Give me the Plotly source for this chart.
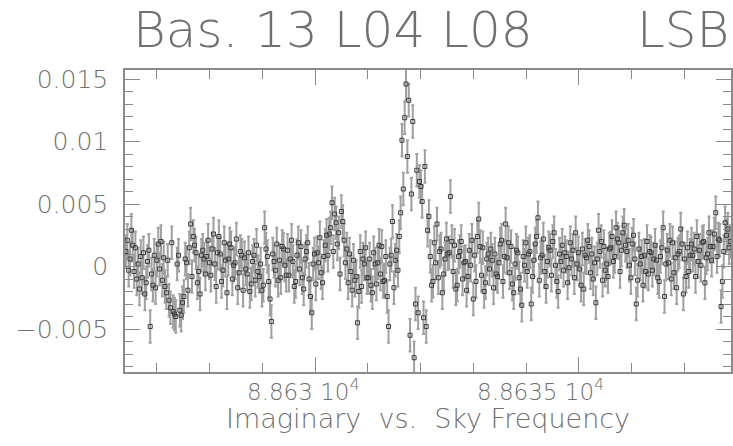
import plotly.graph_objects as go

# ---- data ----
F_START = 88626.42      # MHz, first channel
F_STEP = 0.0255         # MHz per channel
ERR = 0.0013            # per-channel error bar half-length

imag = [
    0.0012, 0.0021, -0.0003, 0.0006, 0.0029, 0.0017, -0.0004, 0.0015, -0.0010, 0.0002,
    -0.0018, 0.0008, -0.0009, 0.0011, -0.0022, -0.0013, 0.0004, 0.0013, -0.0048, -0.0006,
    -0.0015, 0.0009, -0.0017, 0.0005, 0.0018, -0.0002, 0.0020, -0.0011, 0.0007, -0.0016,
    -0.0021, 0.0005, -0.0027, -0.0033, 0.0019, -0.0036, -0.0038, -0.0040, 0.0002, 0.0009,
    -0.0035, -0.0039, -0.0029, -0.0024, 0.0006, 0.0003, -0.0019, 0.0015, 0.0034, -0.0008,
    0.0024, 0.0017, 0.0011, -0.0013, -0.0004, -0.0022, 0.0009, 0.0013, 0.0006, -0.0006,
    0.0008, 0.0021, 0.0003, -0.0007, 0.0014, 0.0026, 0.0002, -0.0016, 0.0011, 0.0024,
    0.0010, -0.0012, -0.0003, 0.0019, 0.0005, -0.0021, 0.0006, 0.0018, 0.0015, -0.0010,
    0.0001, 0.0003, 0.0022, -0.0017, -0.0005, 0.0012, 0.0009, -0.0019, 0.0007, -0.0002,
    -0.0006, 0.0011, -0.0020, -0.0014, 0.0004, 0.0009, -0.0011, 0.0017, -0.0004, -0.0008,
    0.0002, -0.0019, -0.0015, 0.0031, 0.0014, 0.0008, -0.0012, -0.0026, -0.0044, 0.0010,
    0.0004, -0.0003, 0.0018, -0.0011, 0.0005, -0.0009, 0.0016, 0.0014, 0.0001, -0.0007,
    0.0013, -0.0007, 0.0006, 0.0021, 0.0004, -0.0016, -0.0012, 0.0009, 0.0019, -0.0002,
    0.0016, -0.0009, -0.0018, 0.0006, 0.0012, 0.0019, -0.0010, -0.0024, -0.0037, 0.0002,
    0.0010, -0.0014, 0.0011, 0.0003, 0.0023, -0.0005, -0.0013, 0.0008, 0.0017, 0.0025,
    0.0009, 0.0026, 0.0031, 0.0051, 0.0012, 0.0042, 0.0035, 0.0018, 0.0027, -0.0006,
    0.0044, 0.0036, 0.0021, 0.0003, 0.0014, -0.0013, 0.0010, -0.0004, -0.0019, 0.0005,
    -0.0011, -0.0008, -0.0045, -0.0020, 0.0012, -0.0016, 0.0006, 0.0002, 0.0015, -0.0009,
    -0.0009, 0.0006, -0.0015, -0.0021, 0.0011, 0.0002, -0.0014, 0.0003, 0.0017, -0.0006,
    0.0016, -0.0012, -0.0011, 0.0008, -0.0024, -0.0048, 0.0002, 0.0009, 0.0036, -0.0017,
    0.0005, 0.0013, -0.0003, 0.0024, 0.0043, 0.0101, 0.0062, 0.0119, 0.0146, 0.0088,
    0.0133, -0.0055, 0.0058, 0.0116, -0.0073, -0.0030, 0.0077, -0.0037, 0.0068, 0.0064,
    0.0052, -0.0041, 0.0080, -0.0048, 0.0029, 0.0040, 0.0008, -0.0015, -0.0012, 0.0019,
    0.0003, 0.0034, -0.0009, 0.0012, 0.0014, -0.0021, -0.0006, 0.0006, 0.0022, 0.0010,
    0.0011, 0.0056, 0.0020, -0.0004, 0.0017, -0.0018, -0.0015, 0.0008, 0.0012, 0.0020,
    -0.0010, 0.0003, 0.0004, -0.0019, -0.0008, 0.0013, 0.0001, 0.0021, -0.0026, 0.0009,
    -0.0012, 0.0024, 0.0038, 0.0016, -0.0007, 0.0015, -0.0020, -0.0013, 0.0006, 0.0010,
    -0.0002, 0.0014, 0.0005, -0.0017, 0.0010, -0.0006, -0.0008, 0.0003, 0.0018, 0.0021,
    -0.0012, 0.0008, 0.0034, 0.0007, 0.0019, -0.0005, 0.0016, -0.0014, -0.0021, 0.0002,
    0.0013, 0.0011, -0.0009, -0.0018, -0.0031, 0.0008, 0.0001, 0.0019, -0.0004, 0.0010,
    0.0012, -0.0030, -0.0008, 0.0005, 0.0018, 0.0024, 0.0039, -0.0011, 0.0007, 0.0009,
    0.0022, -0.0004, -0.0016, 0.0004, 0.0015, 0.0013, -0.0007, 0.0020, 0.0027, 0.0001,
    -0.0012, -0.0020, 0.0010, 0.0004, 0.0017, -0.0003, 0.0011, 0.0008, -0.0013, -0.0001,
    0.0019, 0.0006, 0.0013, -0.0009, 0.0027, 0.0002, 0.0011, -0.0002, -0.0015, 0.0014,
    -0.0018, 0.0009, 0.0007, 0.0021, 0.0016, -0.0005, 0.0010, -0.0010, 0.0003, -0.0029,
    0.0006, 0.0029, 0.0012, 0.0020, -0.0011, 0.0016, -0.0003, 0.0002, -0.0008, 0.0014,
    0.0015, 0.0024, 0.0004, 0.0008, 0.0031, 0.0022, 0.0019, -0.0004, 0.0013, 0.0027,
    0.0033, 0.0017, 0.0012, 0.0021, 0.0001, -0.0009, 0.0018, 0.0025, 0.0006, -0.0030,
    -0.0011, 0.0014, 0.0002, 0.0008, -0.0015, 0.0009, -0.0004, 0.0020, -0.0006, 0.0012,
    0.0011, -0.0003, 0.0006, 0.0017, 0.0005, -0.0009, -0.0012, 0.0008, 0.0015, 0.0031,
    -0.0024, 0.0002, 0.0013, 0.0003, 0.0021, -0.0010, 0.0019, -0.0005, 0.0007, -0.0017,
    0.0010, 0.0012, 0.0030, 0.0018, -0.0022, 0.0006, -0.0008, 0.0015, -0.0004, 0.0009,
    0.0018, 0.0009, 0.0014, -0.0008, 0.0024, 0.0004, 0.0013, 0.0001, 0.0019, 0.0020,
    -0.0013, 0.0007, 0.0010, 0.0027, 0.0016, 0.0005, 0.0016, 0.0026, 0.0043, 0.0008,
    0.0022, 0.0021, -0.0032, -0.0012, 0.0012, 0.0035, 0.0025, 0.0030, 0.0015, 0.0020,
]
freq = [F_START + F_STEP * i for i in range(len(imag))]

y_tickvals = [-0.005, 0, 0.005, 0.01, 0.015]
y_ticktext = ["\u22120.005", "0", "0.005", "0.01", "0.015"]
x_tickvals = [88630, 88635]
x_ticktext = ["8.863 10<sup>4</sup>", "8.8635 10<sup>4</sup>"]
x_label_shift = [-12, -38]
x_range = [88626.4015, 88637.879]
y_range = [-0.00844, 0.01572]

title_left = "Bas. 13 L04 L08"
title_right = "LSB"
x_title = "Imaginary  vs.  Sky Frequency"

FONT = "DejaVu Sans"
WEIGHT = 200
TXT = "#707070"
AX = "#8a8a8a"

fig = go.Figure()
fig.add_trace(go.Scatter(
    x=freq, y=imag, mode="markers",
    marker=dict(symbol="square-open", size=4, color="#3c3c3c", line=dict(width=1)),
    error_y=dict(type="constant", value=ERR, color="#a0a0a0", thickness=2.0, width=1.5),
    showlegend=False, hoverinfo="skip",
))

axis_common = dict(
    showline=True, linecolor=AX, linewidth=1.5, mirror="allticks",
    ticks="inside", tickcolor=AX, tickwidth=1.2, ticklen=15,
    showgrid=False, zeroline=False, automargin=False,
)
fig.update_xaxes(
    range=x_range, tickvals=x_tickvals, showticklabels=False,
    minor=dict(dtick=1, tick0=88630, ticks="inside", ticklen=9, tickcolor=AX, tickwidth=1.2),
    **axis_common,
)
fig.update_yaxes(
    range=y_range, tickvals=y_tickvals, ticktext=y_ticktext,
    tickfont=dict(family=FONT, size=25, color=TXT, weight=WEIGHT),
    ticklabelstandoff=10,
    minor=dict(dtick=0.001, tick0=0, ticks="inside", ticklen=8, tickcolor=AX, tickwidth=1.2),
    **axis_common,
)

annotations = []
for v, t, s in zip(x_tickvals, x_ticktext, x_label_shift):
    annotations.append(dict(
        x=v, xref="x", y=-0.058, yref="paper", text=t, showarrow=False,
        xanchor="center", yanchor="middle", xshift=s,
        font=dict(family=FONT, size=23, color=TXT, weight=WEIGHT),
    ))
annotations.append(dict(
    x=0.5, xref="paper", y=-0.155, yref="paper", text=x_title, showarrow=False,
    xanchor="center", yanchor="middle",
    font=dict(family=FONT, size=27, color=TXT, weight=WEIGHT),
))
annotations.append(dict(
    x=0.01, xref="paper", y=1.133, yref="paper", text=title_left, showarrow=False,
    xanchor="left", yanchor="middle",
    font=dict(family=FONT, size=50, color=TXT, weight=WEIGHT),
))
annotations.append(dict(
    x=1.0, xref="paper", y=1.133, yref="paper", text=title_right, showarrow=False,
    xanchor="right", yanchor="middle",
    font=dict(family=FONT, size=50, color=TXT, weight=WEIGHT),
))

fig.update_layout(
    width=733, height=446,
    margin=dict(l=125, r=2, t=70, b=74),
    paper_bgcolor="white", plot_bgcolor="white",
    annotations=annotations,
)

fig.write_html("out.html", config={"displayModeBar": False},
               post_script="document.body.style.margin='0px';")
